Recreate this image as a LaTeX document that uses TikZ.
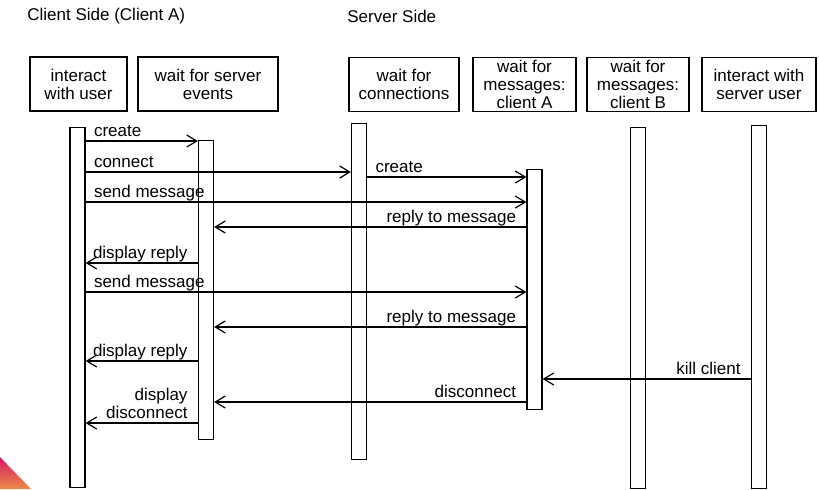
\documentclass[tikz,border=0pt]{standalone}
\usepackage{fontspec}
\setmainfont{Liberation Sans}
\usetikzlibrary{arrows.meta}
\definecolor{logoPink}{RGB}{214,22,98}
\definecolor{logoOrange}{RGB}{236,140,72}
\begin{document}
\begin{tikzpicture}[x=0.5pt,y=-0.5pt,
  every node/.style={font=\fontsize{8.5}{9}\selectfont},
  header/.style={draw,line width=0.6pt,inner sep=0pt,align=center,minimum height=27pt},
  bar/.style={draw,fill=white,line width=0.6pt,minimum width=7.5pt,inner sep=0pt,anchor=north},
  msg/.style={line width=0.6pt,-{Straight Barb[length=5pt,width=6pt]}},
  lblRight/.style={anchor=south west,inner sep=0pt,text depth=0pt,xshift=4pt,yshift=2pt},
  lblLeft/.style={anchor=south east,inner sep=0pt,text depth=0pt,align=right,xshift=-5pt,yshift=2pt}
]
  \useasboundingbox (0,0) rectangle (819,489);

  \shade[top color=logoPink,bottom color=logoOrange] (0,457) -- (31,489) -- (0,489) -- cycle;

  \node[anchor=west,inner sep=0pt] (clientTitle) at (27,16) {Client Side (Client A)};
  \node[anchor=west,inner sep=0pt] (serverTitle) at (347,16) {Server Side};

  \node[header,minimum width=48.5pt] (hUser) at (78.5,84) {interact\\with user};
  \node[header,minimum width=70pt] (hEvents) at (208,84) {wait for server\\events};
  \node[header,minimum width=55pt] (hConn) at (404,84.5) {wait for\\connections};
  \node[header,minimum width=51.5pt] (hMsgA) at (524.5,84.5) {wait for\\messages:\\client A};
  \node[header,minimum width=51pt] (hMsgB) at (638,84.5) {wait for\\messages:\\client B};
  \node[header,minimum width=57pt] (hSrvUser) at (759,84.5) {interact with\\server user};

  \node[bar,minimum height=180pt] (user) at (77.5,127) {};
  \node[bar,minimum height=149.5pt] (events) at (206,140) {};
  \node[bar,minimum height=168pt] (conn) at (359,123) {};
  \node[bar,minimum height=120pt] (msgA) at (534.5,169) {};
  \node[bar,minimum height=180.5pt] (msgB) at (638,127) {};
  \node[bar,minimum height=181.5pt] (srvUser) at (759,125) {};

  \foreach \y/\src/\dst/\side/\txt in {
      141/user.east/events.west/lblRight/create,
      172/user.east/conn.west/lblRight/connect,
      177/conn.east/msgA.west/lblRight/create,
      202/user.east/msgA.west/lblRight/send message,
      227/msgA.west/events.east/lblLeft/reply to message,
      263/events.west/user.east/lblLeft/display reply,
      292/user.east/msgA.west/lblRight/send message,
      327/msgA.west/events.east/lblLeft/reply to message,
      361/events.west/user.east/lblLeft/display reply,
      379/srvUser.west/msgA.east/lblLeft/kill client,
      402/msgA.west/events.east/lblLeft/disconnect,
      423/events.west/user.east/lblLeft/{display\\disconnect}}
  {
    \coordinate (lvl) at (0,\y);
    \draw[msg] (\src |- lvl) -- (\dst |- lvl);
    \node[\side] at (\src |- lvl) {\txt};
  }
\end{tikzpicture}
\end{document}
